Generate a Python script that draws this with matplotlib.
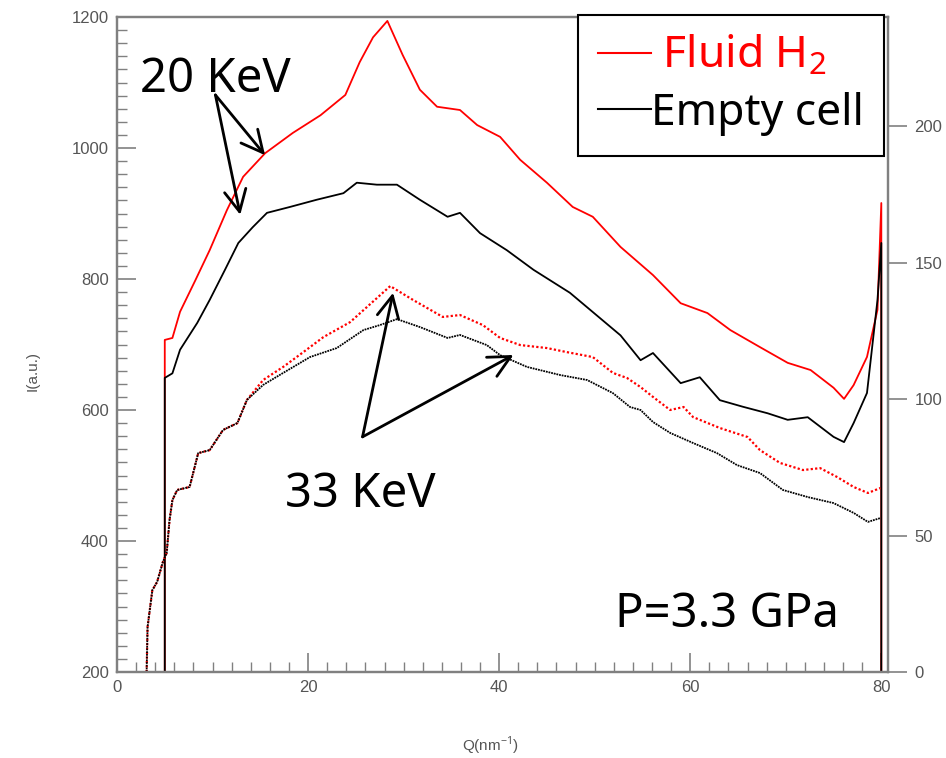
import matplotlib
matplotlib.use('Agg')
import matplotlib.pyplot as plt
from matplotlib.lines import Line2D
from matplotlib.ticker import MultipleLocator

plt.rcParams['font.family'] = ['Liberation Sans', 'DejaVu Sans']
plt.rcParams['mathtext.fontset'] = 'custom'
plt.rcParams['mathtext.rm'] = 'Noto Sans'

# 20 KeV, left axis
q_20_fluid = [0, 5.0, 5.0, 5.8, 6.6, 8.2, 9.7, 11.5, 13.2, 15.5, 18.4, 21.3, 23.9, 25.4,
              26.8, 28.3, 29.9, 31.7, 33.5, 35.9, 37.7, 40.1, 42.2, 45.0, 47.7, 49.8,
              52.7, 56.1, 59.0, 61.8, 64.2, 67.3, 70.2, 72.6, 75.0, 76.1, 77.1, 78.5,
              79.6, 80.0, 80.0]
i_20_fluid = [200, 200, 707, 710, 750, 798, 844, 905, 956, 992, 1023, 1050, 1081, 1131,
              1169, 1194, 1142, 1089, 1063, 1058, 1035, 1017, 982, 947, 910, 895,
              849, 806, 763, 748, 722, 696, 672, 661, 634, 617, 638, 681,
              753, 916, 200]

q_20_empty = [0, 5.0, 5.0, 5.8, 6.6, 8.4, 9.7, 11.3, 12.7, 14.2, 15.7, 18.1, 20.9, 23.7,
              25.1, 27.2, 29.3, 31.7, 34.6, 35.9, 38.0, 40.8, 43.6, 47.4, 52.7, 54.8,
              56.1, 59.0, 61.0, 63.1, 65.5, 68.1, 70.2, 72.3, 75.0, 76.1, 77.1, 78.5,
              79.6, 80.0, 80.0]
i_20_empty = [200, 200, 649, 656, 692, 733, 768, 814, 855, 879, 901, 910, 921, 931,
              947, 944, 944, 921, 895, 901, 870, 844, 814, 779, 714, 676,
              687, 641, 650, 615, 605, 595, 585, 589, 559, 551, 580, 626,
              768, 855, 200]

# 33 KeV, right axis
q_33_fluid = [3.1, 3.2, 3.7, 4.2, 4.8, 5.2, 5.5, 5.8, 6.3, 7.6, 8.5, 9.7, 11.1, 12.6,
              13.6, 15.3, 17.4, 19.5, 21.6, 24.4, 27.2, 28.6, 31.0, 34.1, 35.9, 38.3,
              40.1, 42.2, 45.0, 47.1, 49.8, 51.9, 53.4, 54.8, 56.1, 57.9, 59.3, 60.3,
              63.1, 66.0, 67.3, 69.4, 71.8, 73.6, 75.4, 77.1, 78.6, 79.9]
i_33_fluid = [0, 16.5, 30.0, 33.0, 40.3, 43.6, 55.7, 63.0, 66.7, 67.8, 80.2, 81.3, 88.7, 91.2,
              99.7, 107.0, 111.8, 117.2, 122.7, 128.2, 137.0, 141.4, 136.3, 130.1, 130.8, 127.1,
              122.4, 119.8, 118.7, 117.2, 115.4, 109.6, 107.7, 104.4, 100.8, 96.0, 97.1, 93.4,
              89.4, 86.1, 81.3, 76.6, 74.0, 74.7, 71.4, 67.8, 65.6, 67.4]

q_33_empty = [3.1, 3.2, 3.7, 4.2, 4.8, 5.2, 5.5, 5.8, 6.3, 7.6, 8.5, 9.7, 11.1, 12.6,
              13.6, 15.3, 17.4, 20.2, 23.0, 25.8, 27.5, 29.3, 31.7, 34.6, 35.9, 38.7,
              40.1, 42.9, 46.4, 49.2, 51.9, 53.7, 54.8, 56.1, 57.9, 60.3, 62.8, 64.9,
              67.3, 69.7, 72.3, 75.0, 77.1, 78.6, 79.9]
i_33_empty = [0, 16.5, 30.0, 33.0, 40.3, 43.6, 55.7, 63.0, 66.7, 67.8, 80.2, 81.3, 88.7, 91.2,
              99.7, 105.2, 109.6, 115.4, 118.7, 125.3, 127.1, 129.3, 126.4, 122.4, 123.5, 119.8,
              116.1, 111.8, 108.8, 107.0, 102.2, 97.1, 96.0, 91.6, 87.6, 83.9, 80.2, 75.8,
              72.9, 66.7, 64.1, 61.9, 58.3, 55.0, 56.4]

grey = '#808080'
W, H = 946, 758
fig = plt.figure(figsize=(W / 100, H / 100), dpi=100)
ax = fig.add_axes([117 / W, 1 - 672 / H, (888 - 117) / W, (672 - 17) / H])
ax2 = ax.twinx()

# red first so the black verticals at the ends sit on top
ax.plot(q_20_fluid, i_20_fluid, color='red', lw=1.3)
ax.plot(q_20_empty, i_20_empty, color='black', lw=1.3)
ax2.plot(q_33_fluid, i_33_fluid, color='red', lw=1.6, ls=(0, (1, 1)))
ax2.plot(q_33_empty, i_33_empty, color='black', lw=1.3, ls=(0, (1, 0.5)))

ax.set_xlim(0, 80.7)
ax.set_ylim(200, 1200)
ax2.set_ylim(0, 240)

ax.xaxis.set_major_locator(MultipleLocator(20))
ax.xaxis.set_minor_locator(MultipleLocator(2))
ax.yaxis.set_major_locator(MultipleLocator(200))
ax.yaxis.set_minor_locator(MultipleLocator(20))
ax2.yaxis.set_major_locator(MultipleLocator(50))

for a in (ax, ax2):
    for s in a.spines.values():
        s.set_color(grey)
        s.set_linewidth(1.6)

ax.tick_params(axis='both', which='major', direction='in', length=14, width=1.2,
               color=grey, labelcolor='#555555', labelsize=12, pad=6)
ax.tick_params(axis='both', which='minor', direction='in', length=7, width=1.0, color=grey)
ax.tick_params(axis='y', which='both', right=False)
ax2.tick_params(axis='y', which='major', direction='out', length=14, width=1.2,
                color=grey, labelcolor='#555555', labelsize=12, pad=5)

ax.set_ylabel('I(a.u.)', fontsize=11, color='#555555')
ax.yaxis.set_label_coords(-0.1, 0.46)
ax.set_xlabel('Q(nm$^{-1}$)', fontsize=11, color='#555555')
ax.xaxis.set_label_coords(0.485, -0.095)

big = dict(fontsize=34, family='Noto Sans', color='black', va='baseline', ha='left')
ax2.text(2.4, 1085, '20 KeV', transform=ax.transData, **big)
ax2.text(17.6, 452, '33 KeV', transform=ax.transData, **big)
ax2.text(52.1, 269, 'P=3.3 GPa', transform=ax.transData, **big)

arrow = dict(arrowstyle='->,head_length=0.6,head_width=0.3', lw=2, color='black',
             shrinkA=0, shrinkB=0, mutation_scale=26)
for start, end in [((10.3, 1081), (15.5, 989)), ((10.3, 1081), (12.9, 898)),
                   ((25.7, 559), (28.9, 779)), ((25.7, 559), (41.5, 684))]:
    ax2.annotate('', xy=end, xytext=start, xycoords=ax.transData,
                 textcoords=ax.transData, arrowprops=arrow)

handles = [Line2D([], [], color='red', lw=1.5), Line2D([], [], color='black', lw=1.5)]
leg = fig.legend(handles, [' Fluid H$_2$', 'Empty cell'], loc='upper right',
                 bbox_to_anchor=(884 / W, 1 - 15 / H), bbox_transform=fig.transFigure,
                 fancybox=False, edgecolor='black', framealpha=1, labelcolor='linecolor',
                 prop={'family': 'Noto Sans', 'size': 32}, handlelength=1.2,
                 handletextpad=0.0, labelspacing=0.28, borderpad=0.45, borderaxespad=0)
leg.get_frame().set_linewidth(1.5)

fig.savefig('out.png', dpi=100)
